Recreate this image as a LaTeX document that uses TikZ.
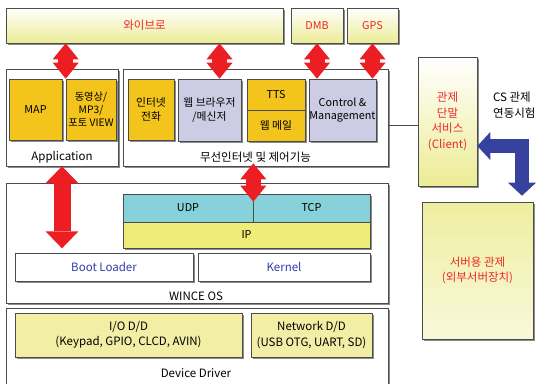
\documentclass[tikz,border=0pt]{standalone}
\usepackage{fontspec}
\setmainfont{Noto Sans CJK KR}
\usetikzlibrary{arrows.meta,shadows}

\definecolor{boxgold}{RGB}{243,196,28}
\definecolor{boxlilac}{RGB}{204,204,228}
\definecolor{boxcyan}{RGB}{134,209,218}
\definecolor{boxip}{RGB}{240,236,120}
\definecolor{boxdd}{RGB}{242,238,165}
\definecolor{boxtop}{RGB}{236,236,150}
\definecolor{arrowred}{RGB}{236,30,36}
\definecolor{arrowblue}{RGB}{55,65,158}
\definecolor{textred}{RGB}{236,40,40}
\definecolor{textblue}{RGB}{50,60,170}

\begin{document}
\begin{tikzpicture}[x=1pt, y=-1pt,
                    every node/.style={font=\fontsize{10.8}{13.5}\selectfont, align=center, inner sep=0pt},
                    box/.style={draw=black!70, line width=0.6pt, fill=white,
                                drop shadow={shadow xshift=1.5pt, shadow yshift=-1.5pt, fill=black!45, opacity=1}},
                    netbox/.style={box, top color=white, bottom color=boxtop, text=textred},
                    bigtext/.style={font=\fontsize{11.5}{15.5}\selectfont},
                    linkarrow/.style={draw=arrowred, line width=15pt,
                                {Triangle[length=16pt,width=26pt,line width=0pt]}-{Triangle[length=16pt,width=26pt,line width=0pt]}},
                    busarrow/.style={draw=arrowred, line width=17pt,
                                {Triangle[length=17pt,width=33pt,line width=0pt]}-{Triangle[length=17pt,width=33pt,line width=0pt]}},
                    turnarrow/.style={draw=arrowblue, line width=14pt, line join=miter,
                                {Triangle[length=13pt,width=28pt,line width=0pt]}-{Triangle[length=13pt,width=28pt,line width=0pt]}}
]
\useasboundingbox (0,0) rectangle (537,383);
\clip (0,0) rectangle (537,383);

% networks
\node [netbox, bigtext, minimum width=277, minimum height=35] at (144.5,25.5) (wibro) {와이브로};
\node [netbox, minimum width=52, minimum height=35] at (317,25.5) (dmb) {DMB};
\node [netbox, minimum width=51, minimum height=35] at (372.5,25.5) (gps) {GPS};

% application layer
\node [box, minimum width=112, minimum height=97] at (62,117.5) (app) {};
\node [box, minimum width=265, minimum height=97] at (255.5,117.5) (wless) {};
\node [box, fill=boxgold, minimum width=53, minimum height=61] at (35.5,109.5) (map) {MAP};
\node [box, fill=boxgold, minimum width=50, minimum height=61,
       font=\fontsize{10.3}{13}\selectfont] at (91,109.5) (movie) {동영상/\\MP3/\\포토 VIEW};
\node [box, fill=boxgold, minimum width=46, minimum height=61] at (151,109.5) (voip) {인터넷\\전화};
\node [box, fill=boxlilac, minimum width=63, minimum height=62] at (209.5,110) (web) {웹 브라우저\\/메신저};
\node [box, fill=boxgold, minimum width=58, minimum height=31] at (276,94.5) (tts) {TTS};
\node [box, fill=boxgold, minimum width=58, minimum height=31] at (276,125.5) (mail) {웹 메일};
\node [box, fill=boxlilac, minimum width=67, minimum height=62] at (342.5,110) (ctrl) {Control \&\\Management};
\node [bigtext] at (62,157) (applabel) {Application};
\node [bigtext] at (255.5,157) (wlesslabel) {무선인터넷 및 제어기능};

% control side
\node [box, bigtext, top color=white, bottom color=boxtop, text=textred,
       minimum width=59, minimum height=129] at (447.5,121.5) (client) {관제\\단말\\서비스\\(Client)};
\node [box, bigtext, top color=boxtop!90, bottom color=boxtop!35, text=textred,
       minimum width=111, minimum height=137] at (477.5,270.5) (server) {서버용 관제\\(외부서버장치)};
\node [bigtext, anchor=north west, align=left] at (493,92) (cslabel) {CS 관제\\연동시험};

% os layer
\node [box, minimum width=382, minimum height=120] at (197,243) (wince) {};
\node [box, fill=boxcyan, minimum width=130, minimum height=28] at (188,208) (udp) {UDP};
\node [box, fill=boxcyan, minimum width=117, minimum height=28] at (311.5,208) (tcp) {TCP};
\node [box, fill=boxip, minimum width=247, minimum height=26] at (246.5,235) (ip) {IP};
\node [box, bigtext, text=textblue, minimum width=178, minimum height=28] at (104,267) (boot) {Boot Loader};
\node [box, bigtext, text=textblue, minimum width=172, minimum height=28] at (284,267) (kernel) {Kernel};
\node [bigtext] at (196,296) (wincelabel) {WINCE OS};

% driver layer
\node [box, minimum width=382, minimum height=84] at (197,350) (driver) {};
\node [box, bigtext, fill=boxdd, minimum width=227, minimum height=44] at (128.5,335) (io) {I/O D/D\\(Keypad, GPIO, CLCD, AVIN)};
\node [box, bigtext, fill=boxdd, minimum width=121, minimum height=44] at (311.5,335) (net) {Network D/D\\(USB OTG, UART, SD)};
\node [bigtext] at (196,373) (driverlabel) {Device Driver};

\draw [black!70, line width=0.6pt] ([yshift=-3.5pt]client.west) -- ([yshift=-3.5pt]client.west -| wless.east);
\draw [linkarrow] (wibro.south -| movie.west) -- (movie.north west);
\draw [linkarrow] ([xshift=10pt]web.north |- wibro.south) -- ([xshift=10pt]web.north);
\draw [linkarrow] (dmb.south) -- (dmb.south |- ctrl.north);
\draw [linkarrow] (gps.south) -- (gps.south |- ctrl.north);
\draw [busarrow] (app.south) -- (app.south |- ip.south);
\draw [linkarrow] ([yshift=3pt]wless.south -| udp.east) -- ([yshift=-8pt]udp.north east);
%
\coordinate (bend) at (522,146);
\draw [turnarrow, shorten >=6pt]
    (client.east |- bend)
    -| (bend |- server.north);

\end{tikzpicture}
\end{document}
